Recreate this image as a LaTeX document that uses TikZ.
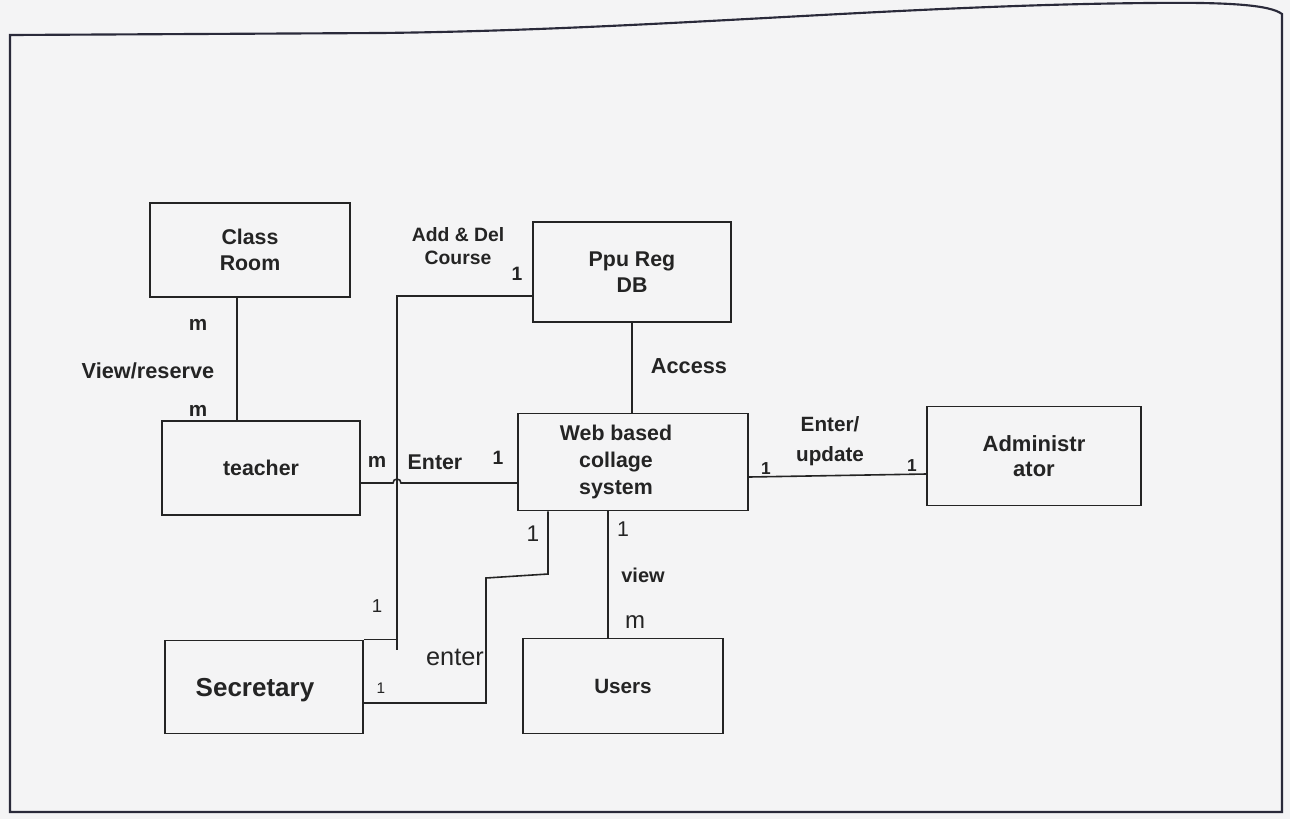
\documentclass[tikz,border=0pt]{standalone}
\usepackage{fontspec}
\setmainfont{Liberation Sans}
\usetikzlibrary{calc}
\definecolor{ink}{HTML}{242424}
\definecolor{paper}{HTML}{F4F4F5}
\definecolor{frame}{HTML}{2A2A3A}
\tikzset{
  box/.style={draw=ink,line width=1.3pt,inner sep=0pt,align=center,text=ink,
              font=\fontsize{16}{20}\selectfont\bfseries},
  conn/.style={draw=ink,line width=1.2pt},
  lb/.style={inner sep=0pt,text=ink,align=center,font=\fontsize{14.5}{17.5}\selectfont\bfseries},
  lr/.style={inner sep=0pt,text=ink,align=center,font=\fontsize{#1}{#1}\selectfont},
}
\begin{document}
\begin{tikzpicture}[x=0.75pt,y=-0.75pt]
\useasboundingbox (0,0) rectangle (1290,819);
\fill[paper] (0,0) rectangle (1290,819);
% page frame
\draw[frame,line width=1.6pt] (10,35) -- (380,33) .. controls (650,30) and (900,5) .. (1150,3)
   .. controls (1230,2) and (1270,5) .. (1282,14) -- (1282,812) -- (10,812) -- cycle;

% boxes
\node[box,minimum width=150pt,minimum height=70.5pt] (cr) at (250,250) {Class\\Room};
\node[box,minimum width=148.5pt,minimum height=75pt] (db) at (632,272) {Ppu Reg\\DB};
\node[box,minimum width=148.5pt,minimum height=70.5pt] (te) at (261,468) {teacher};
\node[box,minimum width=172.5pt,minimum height=72.75pt] (web) at (633,462) {};
\node[box,draw=none,font=\fontsize{16}{20.6}\selectfont\bfseries] (webt) at (616,462) {Web based\\collage\\system};
\node[box,minimum width=160.5pt,minimum height=74.25pt,font=\fontsize{16.5}{19}\selectfont\bfseries] (ad) at (1034,456) {Administr\\ator};
\node[box,minimum width=148.5pt,minimum height=69.75pt] (se) at (264,687) {};
\node[box,draw=none,font=\fontsize{19.5}{22}\selectfont\bfseries] (set) at (255,690) {Secretary};
\node[box,minimum width=150pt,minimum height=71.25pt,font=\fontsize{15.5}{18}\selectfont\bfseries] (us) at (623,686) {Users};

% Class Room -- teacher
\draw[conn] ($(cr.south)+(-13,0)$) coordinate (a1) -- (a1 |- te.north);
% DB -- Web
\draw[conn] (db.south) -- (db.south |- web.north);
% teacher -- Web with hop
\coordinate (vx) at (397,296);
\coordinate (t1) at ($(te.east)+(0,15)$);
\draw[conn] (t1) -- ($(t1 -| vx)+(-4,0)$) arc[start angle=180,end angle=360,radius=4] -- (t1 -| web.west);
% Secretary -- DB
\draw[conn] (se.north east) -- (se.north east -| vx);
\draw[conn] ($(se.north east -| vx)+(0,10)$) -- (vx) -- (vx -| db.west);
% Secretary -- Web
\coordinate (s2) at ($(se.east)+(0,16)$);
\coordinate (j1) at (486,578);
\coordinate (j2) at (548,574);
\draw[conn] (s2) -| (j1) -- (j2) -- (j2 |- web.south);
% Web -- Users
\coordinate (ux) at (608,600);
\draw[conn] (ux |- web.south) -- (ux |- us.north);
% Web -- Administrator
\draw[conn] ($(web.east)+(0,15)$) -- ($(ad.west)+(0,18)$);

% labels
\node[lb] (l1) at (458,246) {Add \& Del\\Course};
\node[lb] (l2) at (517,274) {1};
\node[lb,font=\fontsize{15.5}{17}\selectfont\bfseries] (l3) at (198,325) {m};
\node[lb,font=\fontsize{16.3}{18}\selectfont\bfseries] (l4) at (148,371) {View/reserve};
\node[lb,font=\fontsize{15.5}{17}\selectfont\bfseries] (l5) at (198,411) {m};
\node[lb,font=\fontsize{16.3}{18}\selectfont\bfseries] (l6) at (689,366) {Access};
\node[lb,font=\fontsize{15.5}{17}\selectfont\bfseries] (l7) at (377,462) {m};
\node[lb,font=\fontsize{16}{18}\selectfont\bfseries] (l8) at (435,462) {Enter};
\node[lb] (l9) at (498,458) {1};
\node[lb,font=\fontsize{15.5}{22}\selectfont\bfseries] (l10) at (830,441) {Enter/\\update};
\node[lb,font=\fontsize{13}{13}\selectfont\bfseries] (l11) at (766,469) {1};
\node[lb,font=\fontsize{13}{13}\selectfont\bfseries] (l12) at (912,466) {1};
\node[lr=14] (l13) at (377,606) {1};
\node[lr=11.5] (l14) at (381,688) {1};
\node[lr=19] (l15) at (455,657) {enter};
\node[lr=17] (l16) at (533,534) {1};
\node[lr=16] (l17) at (623,529) {1};
\node[lb,font=\fontsize{15}{17}\selectfont\bfseries] (l18) at (643,575) {view};
\node[lr=18] (l19) at (635,622) {m};
\end{tikzpicture}
\end{document}
